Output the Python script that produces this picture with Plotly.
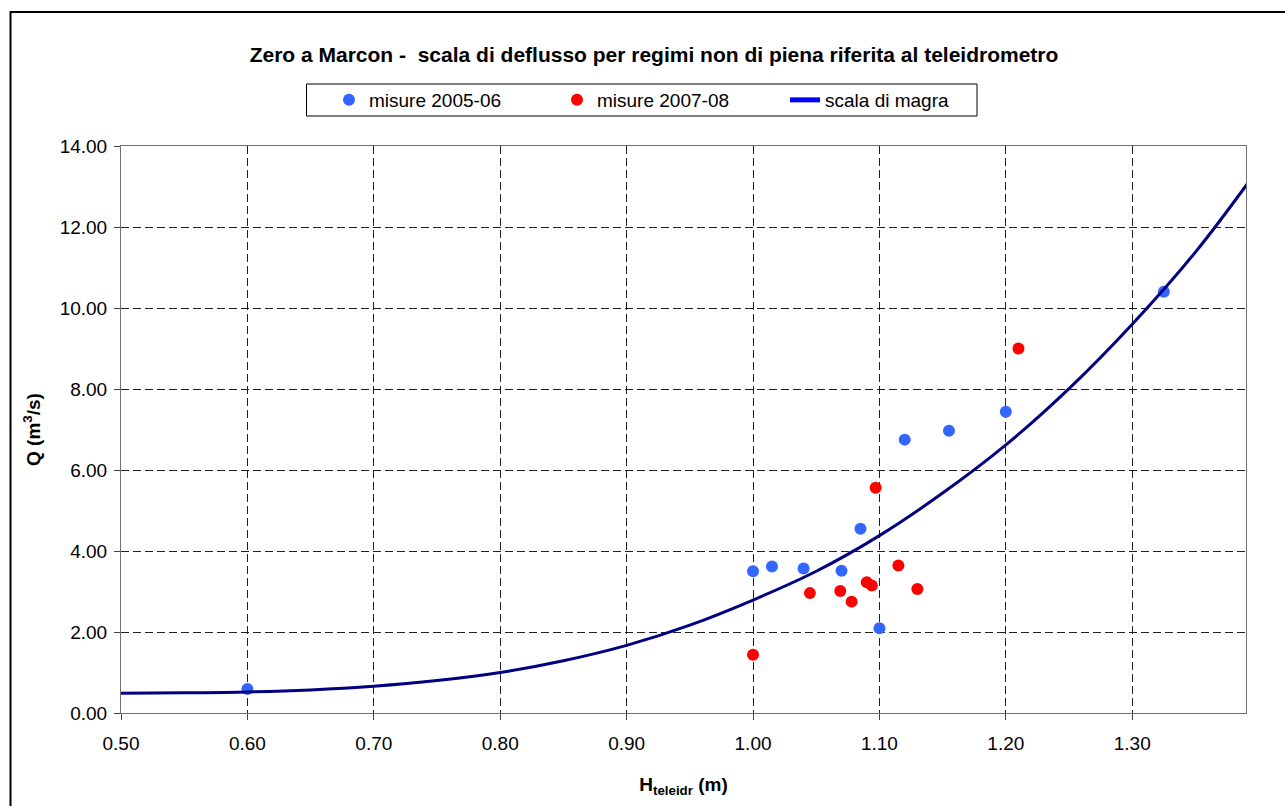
import plotly.graph_objects as go

# Data
h_0506 = [0.600, 1.000, 1.015, 1.040, 1.070, 1.085, 1.100, 1.120, 1.155, 1.200, 1.325]
q_0506 = [0.59, 3.50, 3.62, 3.57, 3.51, 4.55, 2.09, 6.75, 6.97, 7.44, 10.40]

h_0708 = [1.000, 1.045, 1.069, 1.078, 1.090, 1.094, 1.097, 1.115, 1.130, 1.210]
q_0708 = [1.44, 2.96, 3.01, 2.75, 3.23, 3.15, 5.56, 3.64, 3.06, 9.00]

h_curve = [0.50, 0.55, 0.60, 0.65, 0.70, 0.75, 0.80, 0.85, 0.90, 0.95,
           1.00, 1.05, 1.10, 1.15, 1.20, 1.25, 1.30, 1.35, 1.40]
q_curve = [0.49, 0.50, 0.52, 0.57, 0.66, 0.80, 1.00, 1.29, 1.67, 2.17,
           2.79, 3.50, 4.38, 5.43, 6.62, 8.01, 9.60, 11.38, 13.45]

x_ticks = [0.50, 0.60, 0.70, 0.80, 0.90, 1.00, 1.10, 1.20, 1.30]
y_ticks = [0, 2, 4, 6, 8, 10, 12, 14]

title_text = "Zero a Marcon -  scala di deflusso per regimi non di piena riferita al teleidrometro"
names = ["misure 2005-06", "misure 2007-08", "scala di magra"]

FONT = "Liberation Sans, Arial, sans-serif"

fig = go.Figure()
fig.add_trace(go.Scatter(x=h_0506, y=q_0506, mode="markers", name=names[0],
                         marker=dict(color="#3366FF", size=12)))
fig.add_trace(go.Scatter(x=h_0708, y=q_0708, mode="markers", name=names[1],
                         marker=dict(color="#FF0000", size=12)))
fig.add_trace(go.Scatter(x=h_curve, y=q_curve, mode="lines", name=names[2],
                         line=dict(color="#000080", width=3, shape="spline"),
                         showlegend=False))
fig.add_trace(go.Scatter(x=[None], y=[None], mode="lines", name=names[2],
                         line=dict(color="#0000FF", width=4)))

L, R, T, B = 121, 1246, 146, 713
W, H = 1285, 806
pw, ph = R - L, B - T

def px(xp):
    return (xp - L) / pw

def py(yp):
    return (B - yp) / ph

fig.update_layout(
    width=W, height=H,
    margin=dict(l=L, r=W - R, t=T, b=H - B, pad=0),
    paper_bgcolor="white", plot_bgcolor="white",
    font=dict(family=FONT, size=19, color="black"),
    showlegend=True,
    title=dict(text="<b>" + title_text + "</b>", x=px(654), xref="paper",
               xanchor="center", y=1 - 55 / H, yanchor="middle",
               font=dict(size=21, family=FONT, color="black")),
    legend=dict(orientation="h", x=px(329), xanchor="left", y=py(100), yanchor="middle",
                bgcolor="rgba(0,0,0,0)", borderwidth=0,
                font=dict(size=19, family=FONT), entrywidth=183, entrywidthmode="pixels",
                itemsizing="constant"),
    xaxis=dict(range=[0.5, 1.39], tickvals=x_ticks, ticktext=[f"{v:.2f}" for v in x_ticks],
               showgrid=True, gridcolor="#202020", gridwidth=1, griddash="8px,4px",
               showline=True, linecolor="#707070", linewidth=1, mirror=True,
               ticks="outside", ticklen=6, tickcolor="#404040", ticklabelstandoff=7,
               zeroline=False,
               title=dict(text="<b>H<sub>teleidr</sub> (m)</b>", standoff=24,
                          font=dict(size=19, family=FONT))),
    yaxis=dict(range=[0, 14], tickvals=y_ticks, ticktext=[f"{v:.2f}" for v in y_ticks],
               showgrid=True, gridcolor="#202020", gridwidth=1, griddash="8px,4px",
               showline=True, linecolor="#707070", linewidth=1, mirror=True,
               ticks="outside", ticklen=6, tickcolor="#404040", ticklabelstandoff=3,
               zeroline=False,
               title=dict(text="<b>Q (m<sup>3</sup>/s)</b>", standoff=14,
                          font=dict(size=19, family=FONT))),
    shapes=[
        dict(type="rect", xref="paper", yref="paper",
             x0=px(10.5), x1=px(1295), y0=py(816), y1=py(12),
             line=dict(color="black", width=2), fillcolor="rgba(0,0,0,0)", layer="below"),
        dict(type="rect", xref="paper", yref="paper",
             x0=px(306.5), x1=px(977), y0=py(116), y1=py(84),
             line=dict(color="black", width=1), fillcolor="white", layer="below"),
    ],
)

fig.write_html("out.html")
